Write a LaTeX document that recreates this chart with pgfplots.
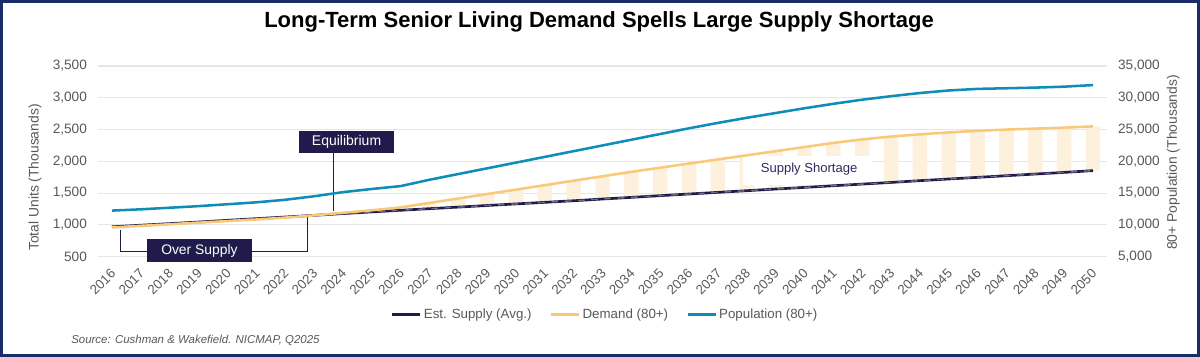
\documentclass[border=0pt]{standalone}
\usepackage{pgfplots}
\pgfplotsset{compat=1.18}
\usepackage{pgfplotstable}
\usepackage{fontspec}
\setmainfont{Liberation Sans}
\definecolor{navy}{RGB}{32,27,74}
\definecolor{demandc}{RGB}{250,200,120}
\definecolor{popc}{RGB}{16,140,185}
\definecolor{barc}{RGB}{253,240,220}
\definecolor{gridc}{RGB}{230,230,230}
\definecolor{txtc}{RGB}{89,89,89}
\definecolor{framec}{RGB}{25,45,105}
\definecolor{labc}{RGB}{46,43,95}
\definecolor{dashc}{RGB}{140,140,150}

\pgfplotstableread{
year supply demand pop
2016 970 960 12250
2017 995 985 12450
2018 1020 1010 12700
2019 1045 1035 12950
2020 1072 1060 13250
2021 1098 1085 13550
2022 1124 1115 13950
2023 1150 1150 14500
2024 1178 1190 15150
2025 1204 1230 15650
2026 1230 1275 16100
2027 1255 1345 17100
2028 1280 1415 18000
2029 1305 1485 18900
2030 1330 1555 19800
2031 1355 1625 20700
2032 1380 1695 21600
2033 1407 1765 22500
2034 1433 1835 23400
2035 1460 1900 24300
2036 1486 1965 25200
2037 1512 2030 26050
2038 1538 2095 26850
2039 1564 2160 27600
2040 1590 2225 28350
2041 1616 2290 29050
2042 1642 2345 29700
2043 1668 2390 30250
2044 1696 2425 30750
2045 1722 2455 31150
2046 1748 2480 31400
2047 1774 2500 31500
2048 1800 2515 31600
2049 1826 2530 31750
2050 1854 2550 32000
}\datatable

\pgfplotsset{
  base/.style={
    scale only axis, width=757.4pt, height=143pt,
    at={(73.18pt,-192.5pt)}, anchor=south west,
    xmin=2015.5, xmax=2050.5,
    clip mode=individual,
    axis line style={draw=none},
    major tick length=0pt,
    scaled y ticks=false,
    ticklabel style={font=\fontsize{10.2}{12}\selectfont, text=txtc},
  }
}

\begin{document}
\begin{tikzpicture}
\path[use as bounding box] (0,0) rectangle (900pt,-267.75pt);
\fill[white] (0,0) rectangle (900pt,-267.75pt);
\node[font=\bfseries\fontsize{16.5}{19}\selectfont] at (449.25pt,-16.5pt) {Long-Term Senior Living Demand Spells Large Supply Shortage};

% Axis A: grid, left ticks, x ticks, shortage bars
\begin{axis}[base,
  ymin=500, ymax=3500,
  ytick={500,1000,...,3500},
  ymajorgrids, grid style={gridc, line width=0.8pt},
  ytick pos=left, xtick pos=bottom,
  yticklabel style={/pgf/number format/.cd, 1000 sep={,}, assume math mode=true, /tikz/.cd, xshift=-4.5pt},
  xtick={2016,2017,...,2050},
  xticklabels={2016,2017,2018,2019,2020,2021,2022,2023,2024,2025,2026,2027,2028,2029,2030,2031,2032,2033,2034,2035,2036,2037,2038,2039,2040,2041,2042,2043,2044,2045,2046,2047,2048,2049,2050},
  xticklabel style={font=\fontsize{10}{11}\selectfont, text=txtc, yshift=-10.9pt, xshift=1pt, rotate=45, anchor=east, inner sep=0pt},
  ylabel={Total Units (Thousands)},
  ylabel style={at={(axis description cs:-0.062,0.415)}, anchor=center, font=\fontsize{10.4}{12}\selectfont, text=txtc},
  ybar stacked, bar width=0.5,
]
\addplot[draw=none, fill=none, restrict x to domain=2026.5:2050.5] table[x=year, y=supply] {\datatable};
\addplot[draw=none, fill=barc, restrict x to domain=2026.5:2050.5] table[x=year, y expr=\thisrow{demand}-\thisrow{supply}] {\datatable};
\end{axis}

% Axis B: annotations, supply and demand lines + legend
\begin{axis}[base,
  ymin=500, ymax=3500,
  hide axis,
  legend columns=3,
  legend style={at={(axis description cs:0.5026,-0.3057)}, anchor=center, draw=none, fill=none,
    font=\fontsize{10}{12}\selectfont, text=txtc,
    /tikz/every even column/.append style={column sep=12pt},
    nodes={inner xsep=1.5pt, inner ysep=1pt}},
  legend image code/.code={\draw[#1, line width=2.25pt] (0pt,0pt) -- (21pt,0pt);},
]
% Supply Shortage label with white background
\node[fill=white, minimum width=96.75pt, minimum height=21.75pt, inner sep=0pt] at (axis cs:2040.11,1848) {};
\node[text=labc, font=\fontsize{9.8}{11}\selectfont, inner sep=0pt] at (axis cs:2040.16,1872) {Supply Shortage};
% Equilibrium
\draw[navy, line width=0.75pt] (axis cs:2023.69,2125) -- (axis cs:2023.69,1212);
\node[fill=navy, text=white, minimum width=71.25pt, minimum height=16.5pt, inner sep=0pt, font=\fontsize{10.5}{12}\selectfont] at (axis cs:2024.13,2299) {Equilibrium};
% Over Supply
\draw[navy, line width=0.75pt] (axis cs:2016.28,922) |- (axis cs:2017.21,574);
\draw[navy, line width=0.75pt] (axis cs:2020.85,574) -| (axis cs:2022.76,1133);
\node[fill=navy, text=white, minimum width=78.75pt, minimum height=17.25pt, inner sep=0pt, font=\fontsize{10.4}{12}\selectfont] at (axis cs:2019.03,598) {Over Supply};
\addplot[navy, line width=2pt, line join=round] table[x=year, y=supply] {\datatable};
\addlegendentry{Est. Supply (Avg.)}
\addplot[dashc, line width=1.0pt, dash pattern=on 5pt off 5pt, opacity=0.75, forget plot] table[x=year, y=supply] {\datatable};
\addplot[demandc, line width=1.9pt, line join=round] table[x=year, y=demand] {\datatable};
\addlegendentry{Demand (80+)}
\addlegendimage{popc, line width=1.9pt}
\addlegendentry{Population (80+)}
\end{axis}

% Axis C: population on right axis
\begin{axis}[base,
  ymin=5000, ymax=35000,
  axis x line=none, axis y line*=right,
  ytick={5000,10000,...,35000},
  yticklabel style={/pgf/number format/.cd, 1000 sep={,}, assume math mode=true, /tikz/.cd, xshift=4.5pt},
  ylabel={80+ Population (Thousands)},
  ylabel style={at={(axis description cs:1.0652,0.494)}, anchor=center, font=\fontsize{10.4}{12}\selectfont, text=txtc},
]
\addplot[popc, line width=1.9pt, line join=round] table[x=year, y=pop] {\datatable};
\end{axis}

\draw[framec, line width=2.25pt] (1.125pt,-1.125pt) rectangle (898.875pt,-266.625pt);
\node[anchor=west, font=\itshape\fontsize{8.6}{10}\selectfont, text=txtc, inner sep=0pt] at (53.25pt,-255pt) {Source: Cushman \& Wakefield. NICMAP, Q2025};
\end{tikzpicture}
\end{document}
